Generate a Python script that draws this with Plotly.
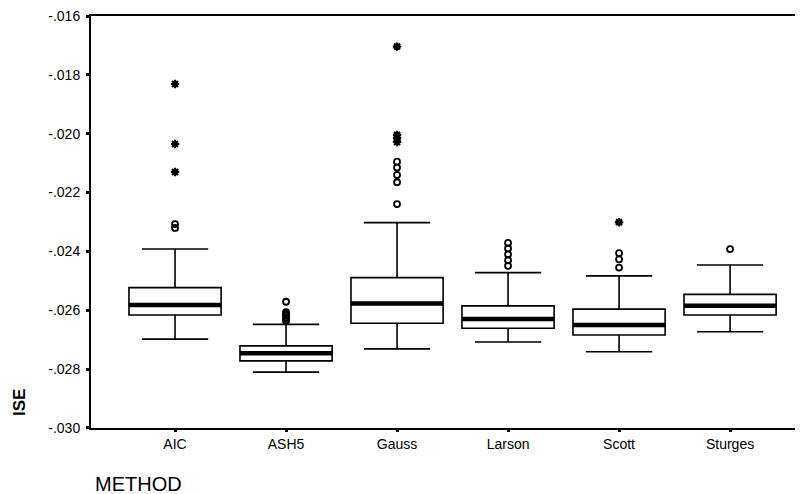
import plotly.graph_objects as go

methods = ["AIC", "ASH5", "Gauss", "Larson", "Scott", "Sturges"]
lower_whisker = [-0.02698, -0.02810, -0.02731, -0.02708, -0.02741, -0.02673]
q1_vals = [-0.02616, -0.02772, -0.02644, -0.02661, -0.02684, -0.02616]
median_vals = [-0.02582, -0.02746, -0.02577, -0.02630, -0.02650, -0.02585]
q3_vals = [-0.02523, -0.02721, -0.02489, -0.02585, -0.02596, -0.02546]
upper_whisker = [-0.02392, -0.02648, -0.02302, -0.02472, -0.02483, -0.02446]

circle_outliers = {
    "AIC": [-0.02307, -0.02320],
    "ASH5": [-0.02571, -0.02606, -0.02612, -0.02618, -0.02624, -0.02630, -0.02636],
    "Gauss": [-0.02095, -0.02115, -0.02140, -0.02165, -0.02239],
    "Larson": [-0.02371, -0.02390, -0.02410, -0.02430, -0.02449],
    "Scott": [-0.02406, -0.02427, -0.02455],
    "Sturges": [-0.02392],
}
star_outliers = {
    "AIC": [-0.01831, -0.02035, -0.02130],
    "Gauss": [-0.01704, -0.02004, -0.02015, -0.02028],
    "Scott": [-0.02301],
}

y_tick_vals = [-0.030, -0.028, -0.026, -0.024, -0.022, -0.020, -0.018, -0.016]
y_tick_text = ["-.030", "-.028", "-.026", "-.024", "-.022", "-.020", "-.018", "-.016"]

FONT = "Liberation Sans, Arial, sans-serif"
fig = go.Figure()

fig.add_trace(go.Box(
    x=methods, q1=q1_vals, median=median_vals, q3=q3_vals,
    lowerfence=lower_whisker, upperfence=upper_whisker,
    fillcolor="white", line=dict(color="black", width=1.6),
    width=0.83, whiskerwidth=0.72, boxpoints=False, showlegend=False,
    hoverinfo="skip",
))
# thick median bar
fig.add_trace(go.Box(
    x=methods, q1=median_vals, median=median_vals, q3=median_vals,
    lowerfence=median_vals, upperfence=median_vals,
    fillcolor="black", line=dict(color="black", width=4.5),
    width=0.83, whiskerwidth=0, boxpoints=False, showlegend=False,
    hoverinfo="skip",
))

cx, cy = [], []
for m in methods:
    for v in circle_outliers.get(m, []):
        cx.append(m); cy.append(v)
fig.add_trace(go.Scatter(
    x=cx, y=cy, mode="markers", showlegend=False,
    marker=dict(symbol="circle-open", size=6, color="black", line=dict(width=1.8)),
))
sx, sy = [], []
for m in methods:
    for v in star_outliers.get(m, []):
        sx.append(m); sy.append(v)
fig.add_trace(go.Scatter(
    x=sx, y=sy, mode="markers", showlegend=False,
    marker=dict(symbol="asterisk-open", size=7, color="black", line=dict(width=2.2, color="black")),
))

# page body has an 8px margin; plot area targeted at x 91..800, y 16..428 in the window
fig.update_layout(
    width=795, height=486,
    margin=dict(l=83, r=3, t=8, b=66),
    paper_bgcolor="white", plot_bgcolor="white",
    font=dict(family=FONT, size=14, color="black"),
    xaxis=dict(
        type="category", categoryorder="array", categoryarray=methods,
        range=[-0.757, 5.63], showgrid=False, zeroline=False,
        showline=True, linecolor="black", linewidth=2, mirror=True,
        ticks="outside", ticklen=2, tickwidth=3, tickcolor="black",
        tickfont=dict(family=FONT, size=14),
    ),
    yaxis=dict(
        range=[-0.0300002, -0.0159998], tickvals=y_tick_vals, ticktext=y_tick_text,
        showgrid=False, zeroline=False,
        showline=True, linecolor="black", linewidth=2,
        ticks="outside", ticklen=3, tickwidth=3, tickcolor="black",
        ticklabelstandoff=3, ticklabeloverflow="allow", automargin=False,
        tickfont=dict(family=FONT, size=14),
    ),
    annotations=[
        dict(text="<b>ISE</b>", xref="paper", yref="paper", showarrow=False,
             textangle=-90, font=dict(family=FONT, size=17), xanchor="center", yanchor="middle",
             x=(19 - 91) / 709, y=(428 - 403) / 412),
        dict(text="METHOD", xref="paper", yref="paper", showarrow=False,
             font=dict(family=FONT, size=20), xanchor="left", yanchor="middle",
             x=(93 - 91) / 709, y=(428 - 484) / 412),
    ],
)

fig.write_html("out.html")
